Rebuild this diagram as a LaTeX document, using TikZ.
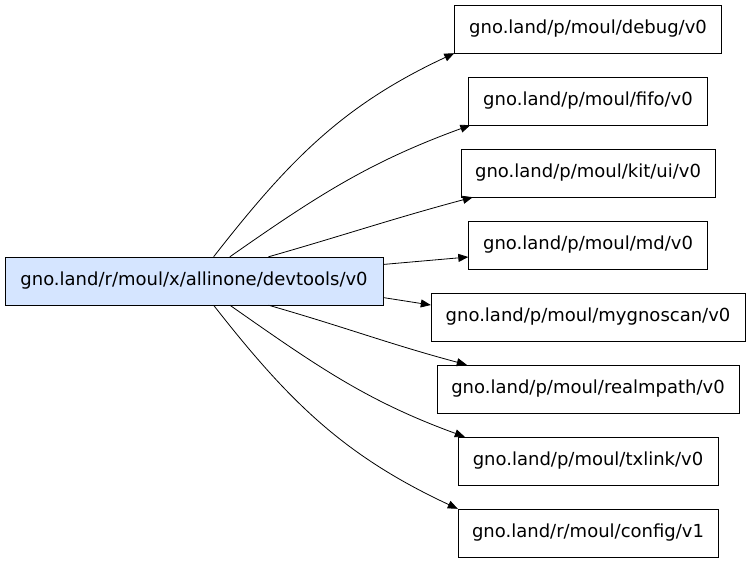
\documentclass[tikz,border=0pt]{standalone}
\usepackage{fontspec}
\setmainfont{DejaVu Sans}
\usetikzlibrary{arrows.meta}
\definecolor{srcfill}{HTML}{D5E5FF}
\begin{document}
\begin{tikzpicture}[x=1pt,y=-1pt,
  box/.style={draw,inner sep=0pt,minimum height=48pt,font=\fontsize{18pt}{21pt}\selectfont},
  edge/.style={-{Triangle[length=10pt,width=8pt]},line width=0.8pt}]
\useasboundingbox (0,0) rectangle (751,563);
\node[box,fill=srcfill,minimum width=378pt] (src) at (194,281) {gno.land/r/moul/x/allinone/devtools/v0};
\node[box,minimum width=267pt] (t1) at (588,29) {gno.land/p/moul/debug/v0};
\node[box,minimum width=239pt] (t2) at (588,101) {gno.land/p/moul/fifo/v0};
\node[box,minimum width=254pt] (t3) at (588,173) {gno.land/p/moul/kit/ui/v0};
\node[box,minimum width=239pt] (t4) at (588,245) {gno.land/p/moul/md/v0};
\node[box,minimum width=314pt] (t5) at (588,317) {gno.land/p/moul/mygnoscan/v0};
\node[box,minimum width=302pt] (t6) at (588,389) {gno.land/p/moul/realmpath/v0};
\node[box,minimum width=260pt] (t7) at (588,461) {gno.land/p/moul/txlink/v0};
\node[box,minimum width=260pt] (t8) at (588,533) {gno.land/r/moul/config/v1};
\draw[edge] (src.51) to[out=52,in=205] (t1.south west);
\draw[edge] (src.34) to[out=35,in=200] ([xshift=2pt]t2.south west);
\draw[edge] (src.18) to[out=16,in=195] ([xshift=12pt]t3.south west);
\draw[edge] (src.5) -- ([yshift=-12pt]t4.west);
\draw[edge] (src.-5) -- ([yshift=12pt]t5.west);
\draw[edge] (src.-18) to[out=-16,in=165] ([xshift=30pt]t6.north west);
\draw[edge] (src.-34) to[out=-35,in=160] ([xshift=7pt]t7.north west);
\draw[edge] (src.-51) to[out=-52,in=155] ([xshift=0pt]t8.north west);
\end{tikzpicture}
\end{document}
